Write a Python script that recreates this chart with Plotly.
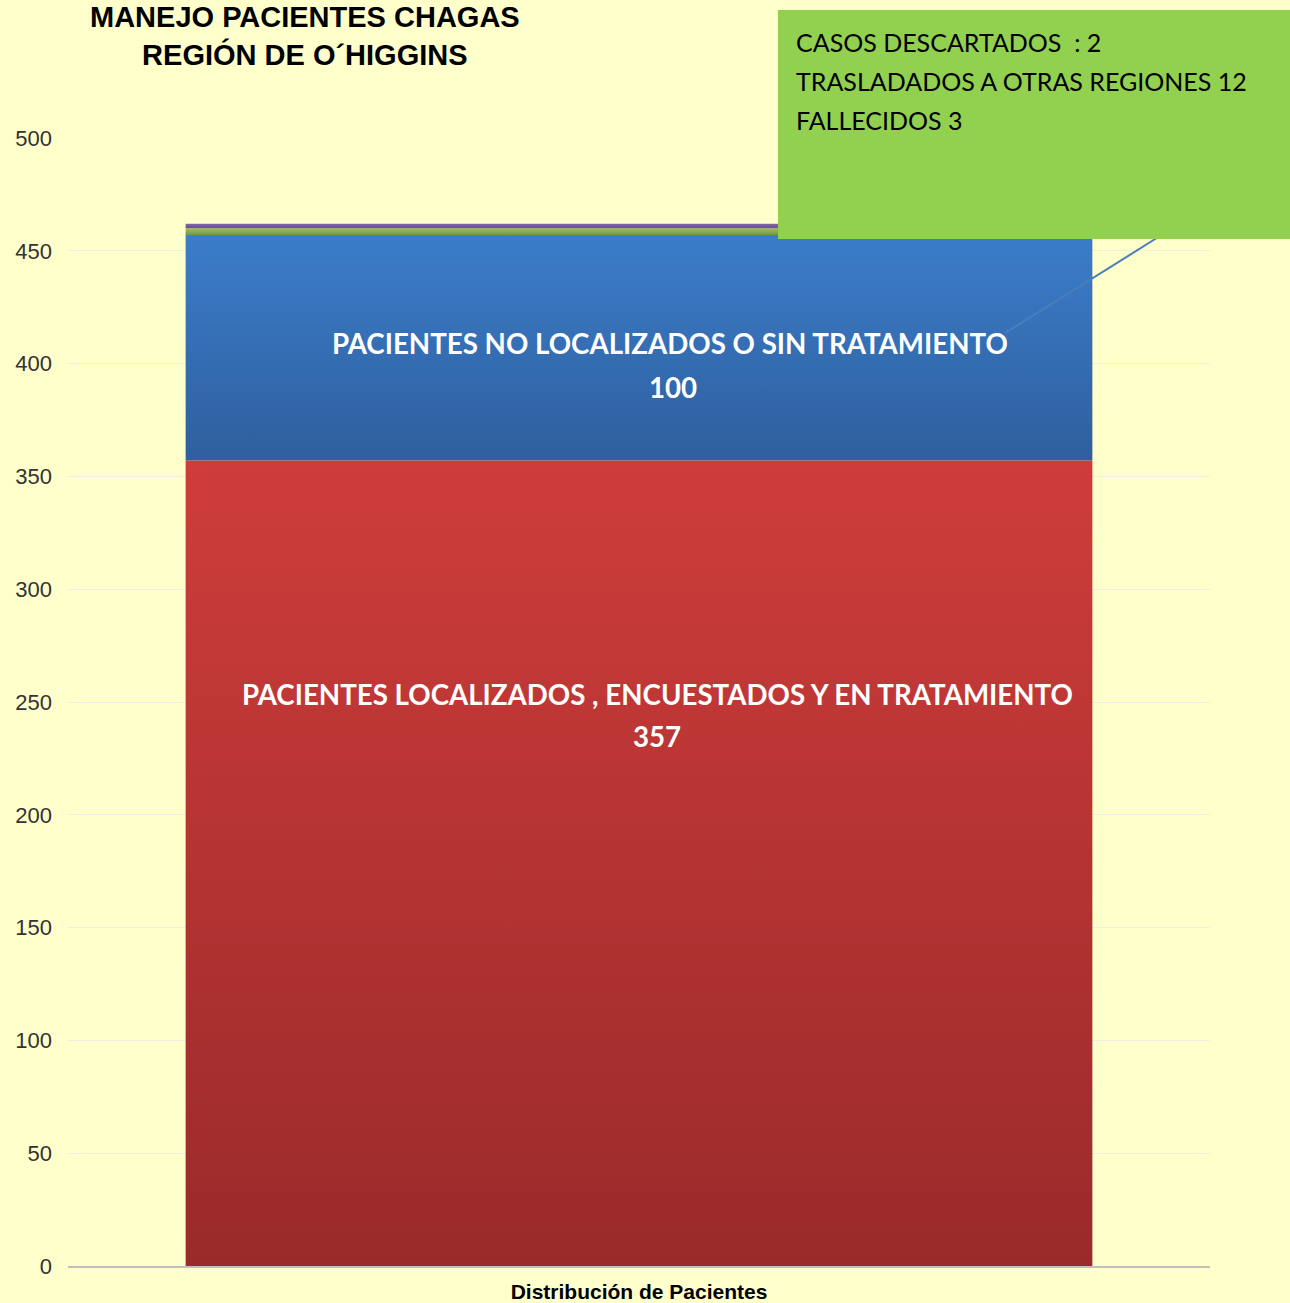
import numpy as np
import plotly.graph_objects as go

# stacked segments, bottom to top
series = ["PACIENTES LOCALIZADOS , ENCUESTADOS Y EN TRATAMIENTO",
          "PACIENTES NO LOCALIZADOS O SIN TRATAMIENTO",
          "FALLECIDOS",
          "CASOS DESCARTADOS"]
values = [357, 100, 3, 2]
category = "Distribución de Pacientes"
box_text = ["CASOS DESCARTADOS  : 2", "TRASLADADOS A OTRAS REGIONES 12", "FALLECIDOS 3"]
yticks = list(range(0, 501, 50))

# gradient colours (bottom, top) per segment
grad = [("#9A2A2A", "#CE3D3B"),
        ("#2F5F9E", "#3B7DCA"),
        ("#7A9440", "#9DC05A"),
        ("#65508A", "#8466A8")]

narrow = "Liberation Sans Narrow, Arial Narrow, Liberation Sans, Arial"
calib = "Lato, Open Sans, sans-serif"

half_w = 0.397
fig = go.Figure()
tops = np.cumsum(values)
bots = tops - np.array(values)
for name, b, t, (c0, c1) in zip(series, bots, tops, grad):
    fig.add_trace(go.Scatter(
        x=[-half_w, half_w, half_w, -half_w, -half_w],
        y=[b, b, t, t, b],
        mode="lines", line=dict(width=0), fill="toself",
        fillgradient=dict(type="vertical", colorscale=[[0, c0], [1, c1]]),
        name=name, showlegend=False, hoverinfo="name+y"))

# in-bar labels (name line, value line)
lab_font = dict(family=calib, size=27.7, color="white")
fig.add_annotation(x=0.027, y=float(bots[1] + values[1] * 0.517), text="<b>" + series[1] + "</b>",
                   showarrow=False, font=lab_font)
fig.add_annotation(x=0.030, y=float(bots[1] + values[1] * 0.326), text="<b>" + str(values[1]) + "</b>",
                   showarrow=False, font=lab_font)
fig.add_annotation(x=0.016, y=float(values[0] * 0.710), text="<b>" + series[0] + "</b>",
                   showarrow=False, font=lab_font)
fig.add_annotation(x=0.016, y=float(values[0] * 0.657), text="<b>" + str(values[0]) + "</b>",
                   showarrow=False, font=lab_font)

# leader line and green note box
fig.add_shape(type="line", xref="paper", yref="paper",
              x0=0.8205, y0=0.8271, x1=0.9562, y1=0.9131,
              line=dict(color="#4A7EBB", width=2))
fig.add_shape(type="rect", xref="paper", yref="paper",
              x0=0.6217, y0=0.9105, x1=1.075, y1=1.1135,
              fillcolor="#92D050", line=dict(width=0))
for i, line in enumerate(box_text):
    fig.add_annotation(xref="paper", yref="paper", x=0.636, y=1.0851 - i * 0.0346,
                       xanchor="left", yanchor="middle", align="left",
                       text=line, showarrow=False,
                       font=dict(family=calib, size=25, color="black"))

# title
fig.add_annotation(xref="paper", yref="paper", x=0.2075, y=1.1235,
                   xanchor="center", yanchor="top", align="center",
                   text="<b>MANEJO PACIENTES CHAGAS<br>REGIÓN DE O´HIGGINS</b>",
                   showarrow=False, font=dict(family=narrow, size=29, color="black"))

fig.update_layout(
    width=1290, height=1303,
    margin=dict(l=68, r=80, t=138, b=37),
    paper_bgcolor="#FFFFCC", plot_bgcolor="#FFFFCC",
    showlegend=False,
)
fig.update_xaxes(range=[-0.5, 0.5], tickvals=[0], ticktext=["<b>" + category + "</b>"],
                 showgrid=False, zeroline=False, showline=True, linecolor="#BFBFBF",
                 linewidth=1.5, ticks="", ticklabelstandoff=6, automargin=False,
                 tickfont=dict(family=narrow, size=21, color="black"))
fig.update_yaxes(range=[0, 500], tickvals=yticks, showgrid=True, gridcolor="#EEEEE2",
                 zeroline=False, showline=False, ticks="", ticklabelstandoff=15,
                 automargin=False,
                 tickfont=dict(family=narrow, size=22, color="#333333"))

fig.write_html("out.html", config={"displayModeBar": False},
               post_script="document.body.style.margin='0';")
